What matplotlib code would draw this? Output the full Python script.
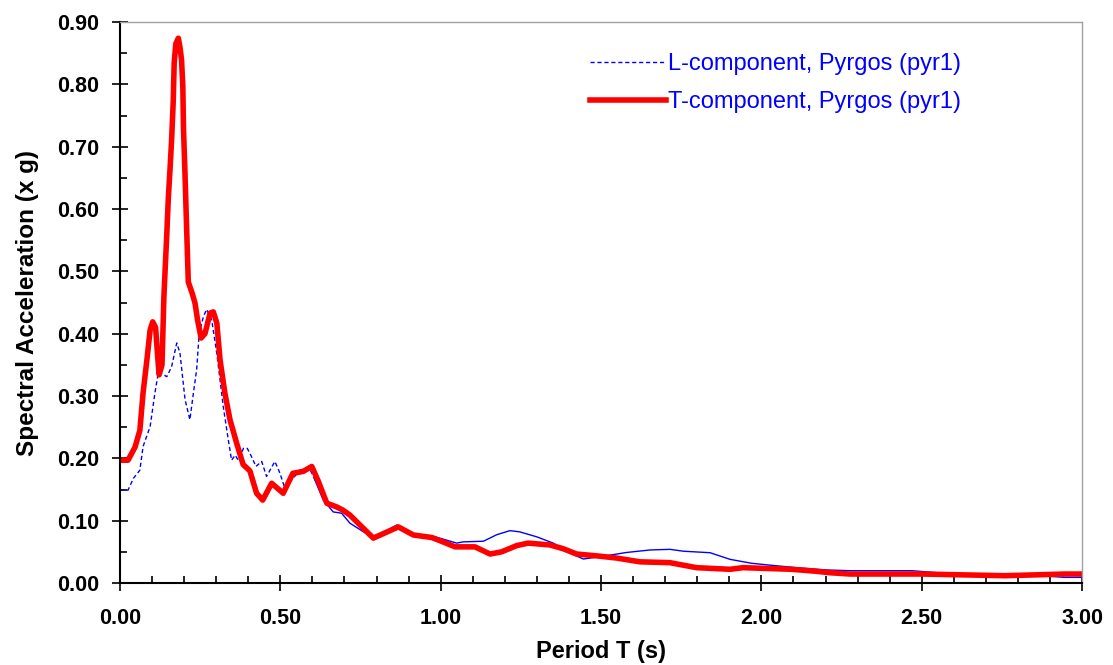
import matplotlib.pyplot as plt
import numpy as np
from matplotlib.ticker import MultipleLocator, FormatStrFormatter

# T-component (red), period vs spectral acceleration
t_red = [0.0, 0.025, 0.047, 0.062, 0.072, 0.084, 0.094, 0.102, 0.111, 0.118, 0.122, 0.131,
         0.137, 0.146, 0.151, 0.156, 0.161, 0.166, 0.169, 0.174, 0.182, 0.187, 0.192, 0.196,
         0.198, 0.203, 0.208, 0.213, 0.225, 0.234, 0.242, 0.253, 0.265, 0.281, 0.291, 0.302,
         0.312, 0.327, 0.343, 0.364, 0.384, 0.405, 0.426, 0.445, 0.473, 0.509, 0.539, 0.571,
         0.598, 0.617, 0.645, 0.676, 0.695, 0.717, 0.79, 0.868, 0.915, 0.972, 1.007, 1.045,
         1.107, 1.154, 1.19, 1.237, 1.273, 1.341, 1.382, 1.424, 1.497, 1.549, 1.621, 1.715,
         1.798, 1.902, 1.943, 2.094, 2.167, 2.214, 2.276, 2.50, 2.76, 2.947, 3.0]
sa_red = [0.197, 0.197, 0.218, 0.245, 0.305, 0.358, 0.406, 0.419, 0.41, 0.36, 0.334, 0.35,
          0.46, 0.56, 0.62, 0.663, 0.711, 0.772, 0.834, 0.865, 0.874, 0.86, 0.839, 0.796,
          0.73, 0.652, 0.566, 0.483, 0.465, 0.449, 0.422, 0.393, 0.40, 0.433, 0.435, 0.417,
          0.358, 0.305, 0.262, 0.224, 0.19, 0.18, 0.144, 0.133, 0.16, 0.144, 0.176, 0.179,
          0.187, 0.165, 0.128, 0.122, 0.117, 0.109, 0.072, 0.090, 0.077, 0.073, 0.066, 0.058,
          0.058, 0.0465, 0.050, 0.060, 0.064, 0.061, 0.055, 0.0465, 0.043, 0.040, 0.034, 0.0326,
          0.0246, 0.022, 0.0246, 0.022, 0.019, 0.0165, 0.0144, 0.0144, 0.0117, 0.0144, 0.0144]

# L-component (blue)
t_blue = [0.0, 0.025, 0.042, 0.062, 0.072, 0.094, 0.109, 0.12, 0.146, 0.161, 0.177, 0.187,
          0.203, 0.218, 0.229, 0.239, 0.247, 0.26, 0.27, 0.286, 0.302, 0.312, 0.322, 0.338,
          0.348, 0.359, 0.369, 0.385, 0.397, 0.41, 0.424, 0.442, 0.457, 0.483, 0.499, 0.514,
          0.535, 0.561, 0.592, 0.608, 0.634, 0.665, 0.691, 0.717, 0.79, 0.863, 0.915, 0.977,
          1.05, 1.07, 1.133, 1.175, 1.216, 1.247, 1.3, 1.351, 1.403, 1.445, 1.507, 1.58,
          1.653, 1.715, 1.757, 1.84, 1.902, 1.97, 2.02, 2.10, 2.20, 2.28, 2.47, 2.60, 2.80,
          2.947, 3.0]
sa_blue = [0.149, 0.149, 0.168, 0.181, 0.219, 0.251, 0.305, 0.339, 0.331, 0.347, 0.385, 0.369,
           0.294, 0.262, 0.305, 0.342, 0.40, 0.427, 0.439, 0.422, 0.368, 0.326, 0.283, 0.229,
           0.197, 0.205, 0.197, 0.216, 0.216, 0.203, 0.187, 0.195, 0.171, 0.195, 0.176, 0.152,
           0.165, 0.181, 0.183, 0.165, 0.133, 0.114, 0.112, 0.096, 0.072, 0.093, 0.079, 0.075,
           0.064, 0.066, 0.067, 0.0775, 0.084, 0.082, 0.074, 0.064, 0.048, 0.0385, 0.043, 0.049,
           0.053, 0.054, 0.051, 0.0486, 0.038, 0.0316, 0.029, 0.025, 0.021, 0.0197, 0.0197,
           0.0144, 0.0144, 0.009, 0.009]

t_blue = np.array(t_blue)
sa_blue = np.array(sa_blue)
dash_part = t_blue <= 0.62
solid_part = t_blue >= 0.608

fig = plt.figure(figsize=(11.13, 6.65), dpi=100)
ax = fig.add_axes([0.1078, 0.1233, 0.8644, 0.8436])

font = ['Liberation Sans', 'DejaVu Sans']

ax.plot(t_blue[dash_part], sa_blue[dash_part], color='#0000ff', lw=1.0, dashes=(3, 2),
        label='L-component, Pyrgos (pyr1)')
ax.plot(t_blue[solid_part], sa_blue[solid_part], color='#0000ff', lw=1.0)
ax.plot(t_red, sa_red, color='#ff0000', lw=4.0, solid_joinstyle='round',
        label='T-component, Pyrgos (pyr1)')

ax.set_xlim(0, 3.0)
ax.set_ylim(0, 0.9)
ax.xaxis.set_major_locator(MultipleLocator(0.5))
ax.xaxis.set_minor_locator(MultipleLocator(0.1))
ax.yaxis.set_major_locator(MultipleLocator(0.1))
ax.yaxis.set_minor_locator(MultipleLocator(0.05))
ax.xaxis.set_major_formatter(FormatStrFormatter('%.2f'))
ax.yaxis.set_major_formatter(FormatStrFormatter('%.2f'))

ax.tick_params(axis='both', which='major', direction='inout', length=12, width=1.2)
ax.tick_params(axis='both', which='minor', direction='in', length=5, width=1.2)
ax.tick_params(axis='x', which='major', pad=12)
ax.tick_params(axis='y', which='major', pad=9)
for lab in ax.get_xticklabels() + ax.get_yticklabels():
    lab.set_family(font)
    lab.set_fontweight('bold')
    lab.set_fontsize(15.5)

for s in ['left', 'bottom']:
    ax.spines[s].set_color('black')
    ax.spines[s].set_linewidth(1.5)
for s in ['top', 'right']:
    ax.spines[s].set_color('#a0a0a0')
    ax.spines[s].set_linewidth(1.0)

ax.set_xlabel('Period T (s)', family=font, fontweight='bold', fontsize=17, labelpad=8)
ax.set_ylabel('Spectral Acceleration (x g)', family=font, fontweight='bold', fontsize=17.5,
              labelpad=13)

leg = ax.legend(loc='upper left', bbox_to_anchor=(0.4886, 0.945), frameon=False,
                prop={'family': font, 'size': 17}, handlelength=3.2, handletextpad=0.1,
                labelspacing=0.7, borderpad=0, borderaxespad=0)
for txt in leg.get_texts():
    txt.set_color('#0000ff')

fig.savefig('out.png', dpi=100)
